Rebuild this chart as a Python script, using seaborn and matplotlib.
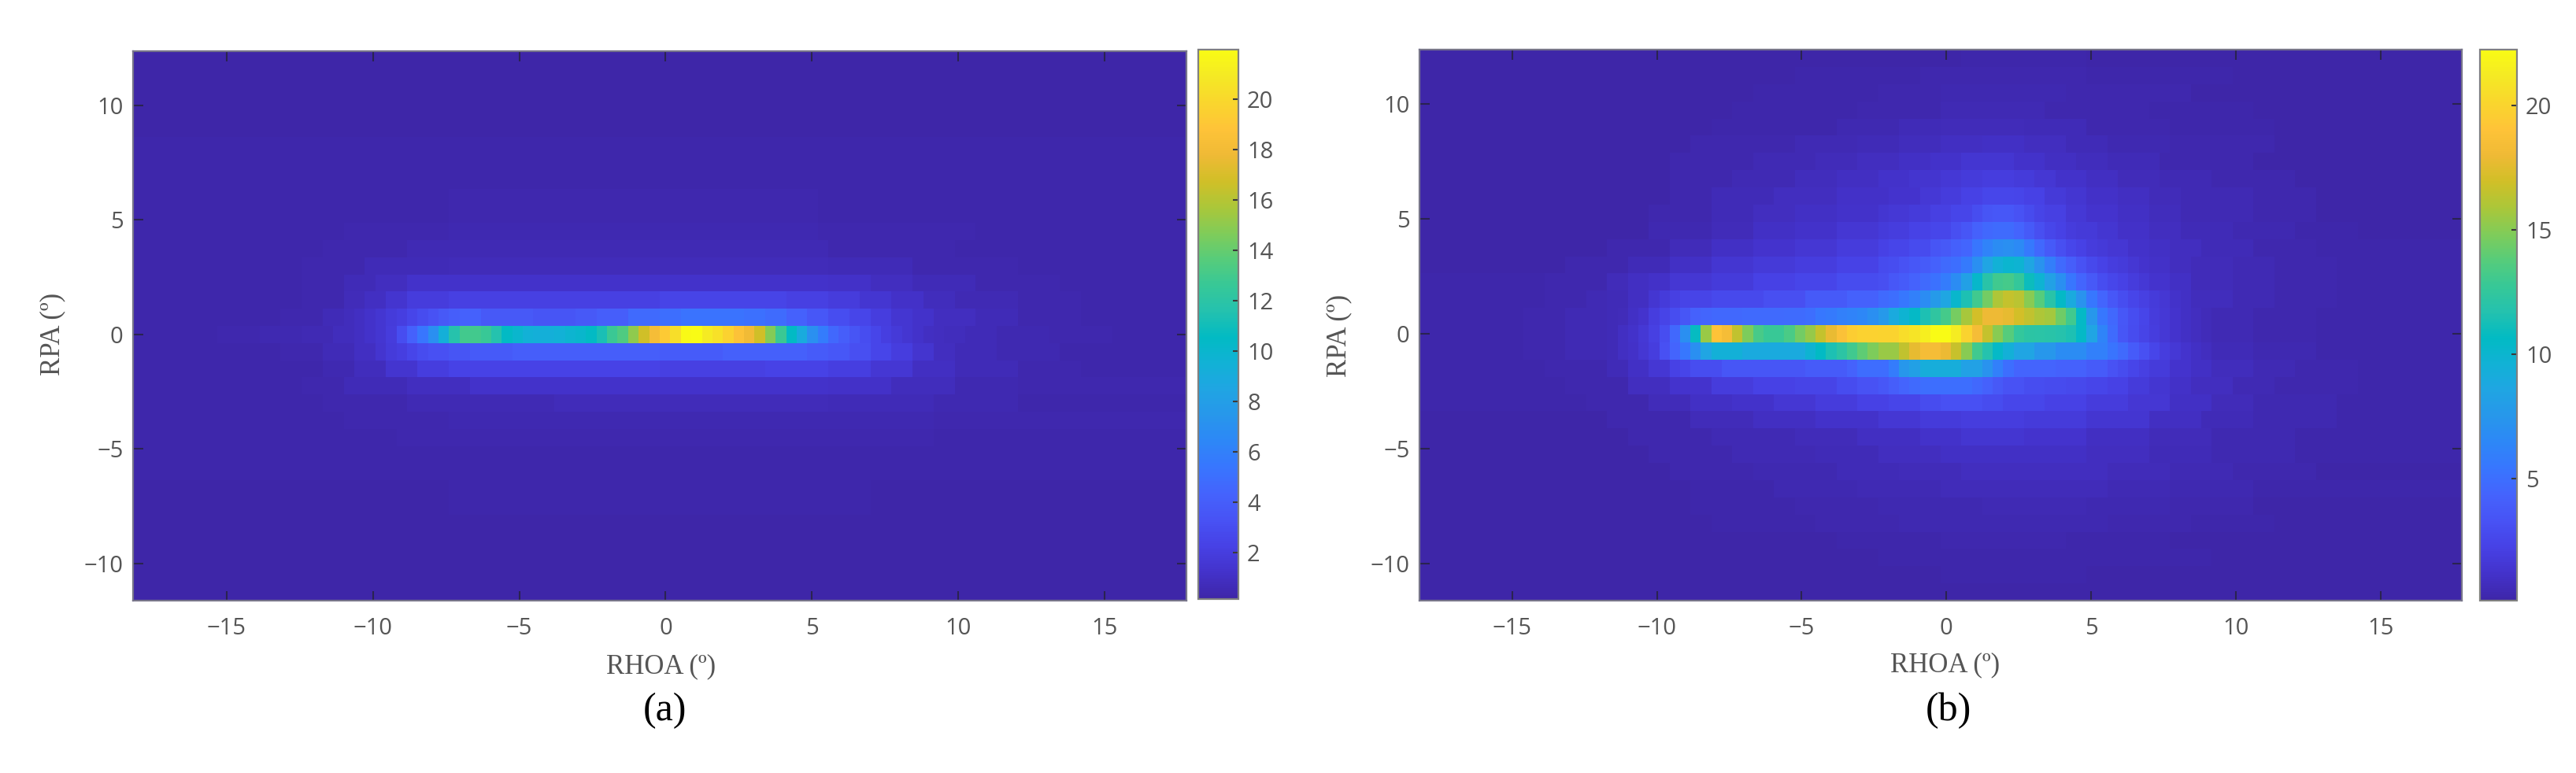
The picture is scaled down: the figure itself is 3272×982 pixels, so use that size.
import numpy as np
import pandas as pd
import seaborn as sns
import matplotlib.pyplot as plt
from matplotlib.colors import LinearSegmentedColormap

# heat map values are typed per row as {first column: level}, a level holds until the next key
N_COLS = 100
X_START, X_STEP = -18.2, 0.36
Y_TOP, Y_STEP = 12.375, 0.75

x_tick_values = [-15, -10, -5, 0, 5, 10, 15]
y_tick_values = [-10, -5, 0, 5, 10]
cbar_ticks_a = [2, 4, 6, 8, 10, 12, 14, 16, 18, 20]
cbar_ticks_b = [5, 10, 15, 20]

# (a) centre row, cell by cell from column 24
centre_a = [1.9, 3.0, 4.2, 5.4, 6.9, 9.3, 11.7, 13, 13, 12.6, 11.6, 10.5, 10, 9.5, 9.3, 9.3, 9.5, 9.8, 10.1, 10.5,
            11.3, 12.7, 13.4, 15, 16.7, 18.2, 19.2, 20.3, 21.8, 22, 21, 20.5, 19.6, 18.7, 17.9, 16.7, 14.8, 12.7,
            10.5, 9, 7, 5.7, 4.6, 4, 3.4, 3, 2.5, 2.1, 1.7, 1.5, 1.2]
rows_a = [
    {0: .2}, {0: .2}, {0: .2}, {0: .22}, {0: .24}, {0: .25},
    {0: .25, 30: .3, 70: .25}, {0: .25, 25: .3, 70: .25},
    {0: .25, 20: .3, 30: .35, 65: .3, 80: .25}, {0: .25, 20: .3, 30: .4, 65: .3, 80: .25},
    {0: .3, 20: .35, 30: .45, 65: .35, 80: .3}, {0: .3, 18: .4, 26: .55, 66: .4, 78: .3},
    {0: .3, 16: .4, 22: .6, 30: .75, 66: .6, 74: .4, 84: .3},
    {0: .3, 16: .4, 20: .6, 23: .9, 26: 1.2, 66: 1.1, 70: .9, 74: .6, 80: .4, 88: .3},
    {0: .3, 16: .4, 20: .7, 22: 1.0, 24: 1.4, 26: 1.9, 30: 2.2, 50: 2.4, 62: 2.2, 66: 1.9, 69: 1.5, 72: 1.1, 75: .8,
     78: .55, 84: .4, 90: .3},
    {0: .3, 14: .4, 18: .6, 20: .8, 21: 1.0, 22: 1.2, 23: 1.5, 24: 1.8, 25: 2.1, 26: 2.5, 27: 2.9, 28: 3.3, 29: 3.7,
     30: 4.0, 31: 4.2, 33: 3.7, 38: 3.4, 42: 3.7, 44: 4.0, 47: 4.7, 50: 5.0, 52: 5.2, 58: 5.1, 60: 4.8, 62: 4.2,
     64: 3.6, 66: 3.0, 68: 2.5, 70: 2.0, 72: 1.5, 74: 1.2, 76: .9, 80: .6, 84: .4, 90: .3},
    {0: .3, 8: .35, 12: .45, 16: .55, 19: .8, 21: 1.0, 22: 1.2, 23: 1.5, **dict(enumerate(centre_a, start=24)),
     75: 1.0, 76: .9, 77: .8, 79: .65, 82: .5, 87: .35, 93: .3},
    {0: .3, 14: .4, 18: .6, 21: 1.0, 23: 1.4, 24: 1.8, 25: 2.1, 26: 2.5, 27: 2.9, 28: 3.2, 30: 3.4, 32: 3.8, 36: 4.0,
     50: 3.9, 56: 4.1, 64: 3.9, 66: 3.6, 68: 3.1, 70: 2.5, 72: 2.0, 74: 1.4, 76: .9, 78: .65, 82: .45, 88: .3},
    {0: .3, 18: .45, 21: .8, 24: 1.4, 27: 2.0, 30: 2.3, 50: 2.2, 60: 2.3, 66: 2.1, 70: 1.6, 74: 1.0, 78: .6, 84: .4,
     90: .3},
    {0: .3, 16: .4, 20: .6, 26: .9, 32: 1.2, 66: 1.1, 72: .8, 78: .5, 84: .35},
    {0: .3, 18: .4, 26: .55, 40: .75, 66: .6, 76: .45, 84: .3},
    {0: .3, 20: .35, 30: .45, 60: .5, 76: .35}, {0: .25, 25: .35, 60: .4, 76: .3}, {0: .25, 30: .3, 75: .25},
    {0: .25, 30: .3, 70: .25}, {0: .22, 30: .28, 70: .22}, {0: .2, 30: .25, 70: .2}, {0: .2}, {0: .2}, {0: .2},
    {0: .18}, {0: .18}, {0: .18}, {0: .18}, {0: .18}, {0: .18},
][:32]

# (b) the three busiest rows, cell by cell from column 18
centre_b = [.6, .9, 1.2, 1.6, 2.1, 3.0, 4.6, 7, 10.8, 15.5, 19, 18.4, 16.5, 14.8, 13.3, 12.8, 12.8, 13.4, 14.5, 15.4,
            16.6, 17.8, 18.8, 19.6, 19.9, 19.9, 20, 20, 20.5, 20.9, 21.5, 22.2, 22.2, 21.3, 20, 18.4, 16.6, 15, 13.7,
            12.5, 12.2, 12.1, 12, 11.8, 11.5, 10.5, 8.5, 6.3, 4.8, 3.5, 2.9, 2.4, 2, 1.6, 1.3, 1, .8, .7]
above_b = [.6, .7, 1.0, 1.3, 2, 2.4, 3, 3.5, 4.2, 4.5, 4.6, 4.6, 4.6, 4.7, 4.7, 4.7, 4.7, 4.8, 4.8, 5, 5.5, 5.7, 6,
           6.2, 6.5, 7, 7.7, 9, 9.8, 10.5, 11.5, 12.3, 13.2, 14.6, 15.8, 17, 18, 18, 17.7, 17, 16.5, 16, 15.7, 14.4,
           13, 10.5, 7.5, 5.5, 4.6, 3.6, 3, 2.5, 1.9, 1.6, 1.3, 1, .8, .7]
below_b = [.6, .9, 1.1, 1.5, 2, 3.2, 4.4, 5.5, 7, 8.5, 9.5, 9.5, 9.5, 9, 9, 9, 9, 9, 9, 9.8, 10.6, 11.5, 12.2, 13, 14,
           14.8, 15.5, 15.5, 16.5, 17.7, 18.4, 18.4, 17.9, 16.7, 15, 13, 11.7, 10.4, 9.5, 8.5, 8.5, 7.5, 7.5, 6.8, 6.8,
           6.8, 6, 6, 5.3, 4.7, 3.9, 3.2, 2.5, 2, 1.6, 1.3, 1, .8]
rows_b = [
    {0: .12, 40: .18, 52: .25, 64: .18, 78: .12},
    {0: .12, 36: .2, 48: .3, 64: .2, 78: .12},
    {0: .12, 32: .2, 44: .3, 50: .4, 62: .28, 74: .16},
    {0: .14, 30: .22, 42: .35, 50: .5, 60: .35, 70: .22, 80: .14},
    {0: .14, 28: .25, 40: .4, 46: .55, 50: .7, 58: .55, 64: .35, 72: .22, 82: .14},
    {0: .15, 26: .28, 36: .45, 42: .6, 46: .75, 50: .95, 54: 1.05, 58: .8, 62: .6, 66: .42, 72: .28, 82: .16},
    {0: .15, 24: .28, 32: .45, 38: .65, 42: .8, 46: 1.0, 49: 1.2, 52: 1.4, 57: 1.2, 60: .95, 63: .75, 66: .55, 71: .35,
     80: .18},
    {0: .15, 24: .3, 30: .5, 36: .75, 40: .95, 44: 1.15, 47: 1.35, 50: 1.6, 52: 1.8, 54: 2.0, 57: 1.8, 59: 1.5, 61: 1.2,
     64: .9, 67: .65, 71: .45, 76: .3, 84: .18},
    {0: .18, 24: .35, 28: .55, 34: .85, 40: 1.1, 45: 1.3, 48: 1.6, 50: 1.9, 52: 2.2, 54: 2.6, 57: 2.5, 58: 2.2, 60: 1.7,
     62: 1.4, 64: 1.1, 67: .9, 70: .65, 73: .45, 80: .28, 86: .18},
    {0: .18, 22: .35, 28: .6, 32: .8, 36: 1, 40: 1.2, 44: 1.4, 45: 1.6, 47: 1.8, 49: 2.1, 51: 2.5, 53: 3.0, 54: 3.4,
     55: 3.6, 57: 3.3, 58: 2.8, 59: 2.4, 60: 2.1, 62: 1.6, 64: 1.3, 67: 1, 70: .75, 73: .5, 80: .3, 86: .18},
    {0: .18, 22: .4, 28: .7, 32: 1, 36: 1.2, 40: 1.5, 44: 1.8, 45: 2.0, 47: 2.3, 49: 2.6, 51: 3.1, 52: 3.5, 53: 4.2,
     54: 4.6, 55: 4.8, 57: 4.4, 58: 3.8, 59: 3.1, 60: 2.6, 61: 2.2, 62: 1.9, 63: 1.7, 65: 1.4, 67: 1.1, 70: .85, 73: .6,
     78: .4, 84: .25, 90: .18},
    {0: .18, 18: .35, 24: .7, 28: 1, 32: 1.3, 36: 1.5, 40: 1.9, 44: 2.2, 45: 2.5, 47: 2.8, 49: 3.4, 50: 3.7, 51: 4.1,
     52: 4.5, 53: 5.4, 54: 6.2, 55: 6.8, 56: 7, 57: 6.6, 58: 5.6, 59: 4.6, 60: 3.8, 61: 3.1, 62: 2.6, 63: 2.2, 64: 1.9,
     65: 1.7, 66: 1.5, 68: 1.2, 70: 1, 72: .8, 75: .55, 80: .35, 86: .2},
    {0: .18, 14: .35, 20: .6, 24: 1.0, 28: 1.4, 32: 1.7, 36: 2.0, 40: 2.3, 44: 2.8, 45: 3, 46: 3.3, 47: 3.6, 48: 3.9,
     49: 4.2, 50: 4.7, 51: 5, 52: 5.7, 53: 7, 54: 8.5, 55: 9.6, 56: 10, 57: 9.8, 58: 8.6, 59: 7.2, 60: 5.9, 61: 4.7,
     62: 4, 63: 3.3, 64: 2.7, 65: 2.3, 66: 2, 67: 1.8, 68: 1.5, 69: 1.3, 70: 1.1, 72: .85, 74: .65, 78: .45, 82: .3,
     88: .2},
    {0: .2, 12: .35, 18: .7, 20: .9, 22: 1.1, 24: 1.5, 28: 1.8, 32: 2.2, 36: 2.5, 40: 2.9, 44: 3.1, 45: 3.6, 46: 3.9,
     47: 4.3, 48: 4.7, 49: 5.2, 50: 5.8, 51: 6.8, 52: 8.2, 53: 10.3, 54: 12, 55: 13, 56: 13.2, 57: 12.6, 58: 11,
     59: 9.8, 60: 8.3, 61: 7, 62: 5.4, 63: 4.5, 64: 3.7, 65: 3, 66: 2.6, 67: 2.2, 68: 1.9, 69: 1.6, 70: 1.3, 72: 1,
     74: .7, 78: .45, 82: .3, 88: .2},
    {0: .2, 12: .35, 16: .5, 18: .6, 20: .9, 22: 1.4, 23: 1.8, 24: 2.1, 25: 2.4, 28: 2.7, 33: 3.1, 37: 3.8, 41: 4.2,
     44: 4.7, 45: 5, 46: 5.5, 47: 6, 48: 6.8, 49: 7.8, 50: 8.6, 51: 10.2, 52: 11.5, 53: 13, 54: 14.5, 55: 16, 56: 16.6,
     57: 16.3, 58: 15, 59: 13.7, 60: 12, 61: 10.5, 62: 9, 63: 7.2, 64: 5.5, 65: 4.5, 66: 3.6, 67: 3, 68: 2.5, 69: 2.1,
     70: 1.8, 71: 1.5, 72: 1.2, 73: 1, 74: .75, 78: .45, 82: .3, 88: .2},
    {0: .2, 10: .3, 14: .45, **dict(enumerate(above_b, start=18)), 76: .5, 80: .35, 86: .22},
    {0: .2, 10: .3, 14: .45, **dict(enumerate(centre_b, start=18)), 76: .5, 80: .35, 86: .22},
    {0: .2, 10: .3, 14: .45, **dict(enumerate(below_b, start=18)), 76: .6, 80: .4, 86: .22},
    {0: .2, 12: .35, 18: .6, 20: 1, 22: 1.5, 24: 2.2, 25: 2.5, 26: 3, 29: 3.5, 37: 3.9, 41: 4.3, 42: 4.9, 45: 5.8,
     46: 7.5, 47: 8.2, 48: 9.2, 52: 8.3, 54: 7.2, 55: 6, 56: 5, 57: 4.4, 61: 4.2, 64: 3.9, 66: 3.3, 67: 2.9, 68: 2.5,
     69: 2.1, 70: 1.8, 72: 1.3, 74: 1.0, 76: .75, 80: .45, 84: .3, 90: .2},
    {0: .2, 14: .35, 20: .8, 24: 1.3, 28: 1.9, 32: 2.2, 36: 2.4, 40: 2.9, 42: 3.3, 44: 3.6, 45: 4, 46: 4.4, 47: 4.7,
     48: 5, 53: 4.6, 54: 4.2, 55: 3.7, 56: 3.3, 58: 3, 60: 2.8, 62: 2.7, 64: 2.5, 66: 2.2, 68: 1.8, 70: 1.4, 72: 1.1,
     74: .8, 78: .5, 82: .32, 90: .2},
    {0: .2, 16: .35, 22: .7, 26: 1.0, 30: 1.2, 34: 1.5, 38: 1.9, 42: 2.2, 45: 2.5, 48: 2.9, 50: 3.2, 54: 2.9, 56: 2.6,
     60: 2.2, 64: 1.9, 68: 1.5, 72: 1, 76: .65, 80: .4, 88: .2},
    {0: .18, 18: .35, 26: .7, 32: .95, 38: 1.2, 44: 1.5, 48: 1.8, 52: 2.0, 58: 1.8, 64: 1.4, 70: .95, 75: .6, 80: .38,
     88: .2},
    {0: .18, 20: .32, 28: .5, 36: .7, 42: .95, 48: 1.2, 52: 1.4, 58: 1.25, 64: .95, 70: .65, 76: .42, 84: .22},
    {0: .16, 22: .3, 30: .45, 38: .6, 44: .8, 50: 1.05, 58: 1.0, 64: .8, 70: .55, 76: .36, 84: .2},
    {0: .16, 24: .28, 32: .4, 40: .55, 46: .7, 52: .85, 60: .85, 66: .65, 72: .45, 78: .3, 86: .18},
    {0: .15, 26: .25, 34: .36, 42: .48, 50: .62, 60: .68, 66: .5, 72: .36, 80: .22},
    {0: .14, 26: .22, 36: .32, 44: .42, 54: .52, 64: .42, 72: .3, 80: .18},
    {0: .13, 28: .2, 38: .28, 46: .36, 58: .42, 66: .32, 74: .22, 82: .15},
    {0: .12, 30: .18, 40: .25, 50: .32, 62: .26, 72: .18},
    {0: .12, 32: .18, 44: .22, 56: .26, 66: .2, 76: .14},
    {0: .1, 36: .15, 50: .2, 64: .16, 76: .12},
    {0: .1, 40: .14, 60: .12},
]

# MATLAB parula, sampled
parula = LinearSegmentedColormap.from_list('parula', [
    (0.2422, 0.1504, 0.6603), (0.2647, 0.1978, 0.7952), (0.2783, 0.2559, 0.8991), (0.2810, 0.3228, 0.9579),
    (0.2699, 0.3892, 0.9906), (0.2206, 0.4603, 0.9973), (0.1786, 0.5289, 0.9682), (0.1540, 0.5902, 0.9218),
    (0.1248, 0.6459, 0.8883), (0.0689, 0.6948, 0.8394), (0.0067, 0.7312, 0.7660), (0.1408, 0.7584, 0.6842),
    (0.2161, 0.7843, 0.5923), (0.3406, 0.8008, 0.4789), (0.5044, 0.7993, 0.3480), (0.6720, 0.7793, 0.2227),
    (0.8203, 0.7498, 0.1535), (0.9393, 0.7288, 0.2100), (0.9970, 0.7659, 0.2199), (0.9786, 0.8386, 0.1766),
    (0.9597, 0.9135, 0.1423), (0.9769, 0.9839, 0.0805)], N=256)

W, H = 3272, 982
TICK_GREY = '#555555'
plt.rcParams['font.family'] = ['Open Sans', 'DejaVu Sans']


def to_grid(rows):
    grid = []
    for levels in rows:
        cells = np.zeros(N_COLS)
        for k in sorted(levels):
            cells[k:] = levels[k]
        grid.append(cells)
    return pd.DataFrame(grid)


def px_axes(fig, left, top, right, bottom):
    return fig.add_axes([left / W, 1 - bottom / H, (right - left) / W, (bottom - top) / H])


def panel(fig, rows, vmin, vmax, cbar_ticks, box, cbar_box):
    ax = px_axes(fig, *box)
    cax = px_axes(fig, *cbar_box)
    sns.heatmap(to_grid(rows), ax=ax, cbar_ax=cax, cmap=parula, vmin=vmin, vmax=vmax,
                xticklabels=False, yticklabels=False, cbar_kws={'ticks': cbar_ticks})
    ax.set_xlabel('')
    ax.set_ylabel('')
    ax.set_xticks([(v - X_START) / X_STEP for v in x_tick_values],
                  labels=[str(v).replace('-', '\u2212') for v in x_tick_values])
    ax.set_yticks([(Y_TOP - v) / Y_STEP for v in y_tick_values],
                  labels=[str(v).replace('-', '\u2212') for v in y_tick_values])
    # ticks on all four sides of the box
    ax.tick_params(axis='x', direction='in', length=9, width=1.5, color='#2a2350', pad=15,
                   labelsize=21, labelcolor=TICK_GREY, bottom=True, top=True)
    ax.tick_params(axis='y', direction='in', length=9, width=1.5, color='#2a2350', pad=9,
                   labelsize=21, labelcolor=TICK_GREY, left=True, right=True)
    for side in ax.spines.values():
        side.set_visible(True)
        side.set_color('#77758a')
        side.set_linewidth(1.6)
    cbar = ax.collections[0].colorbar
    cbar.ax.tick_params(direction='in', length=5, width=1.5, color='#3a3a3a', pad=8,
                        labelsize=21, labelcolor=TICK_GREY)
    cbar.outline.set_visible(True)
    cbar.outline.set_edgecolor('#808080')
    cbar.outline.set_linewidth(1.6)
    return ax


fig = plt.figure(figsize=(W / 100, H / 100), dpi=100)
panel(fig, rows_a, 0.16, 21.97, cbar_ticks_a, (169, 65, 1507, 763), (1522, 63, 1573, 761))
panel(fig, rows_b, 0.10, 22.25, cbar_ticks_b, (1803, 63, 3127, 763), (3150, 63, 3197, 763))

serif = ['Liberation Serif', 'DejaVu Serif']
for x, y, label in [(840, 847, 'RHOA (º)'), (2471, 845, 'RHOA (º)')]:
    fig.text(x / W, 1 - y / H, label, family=serif, fontsize=25, color='#555555', ha='center', va='center')
for x, y in [(67, 424), (1701, 426)]:
    fig.text(x / W, 1 - y / H, 'RPA (º)', family=serif, fontsize=25, color='#555555', rotation=90,
             ha='center', va='center')
for x, y, label in [(845, 903, '(a)'), (2475, 903, '(b)')]:
    fig.text(x / W, 1 - y / H, label, family=serif, fontsize=36, color='black', ha='center', va='center')

fig.savefig('out.png', dpi=100)
